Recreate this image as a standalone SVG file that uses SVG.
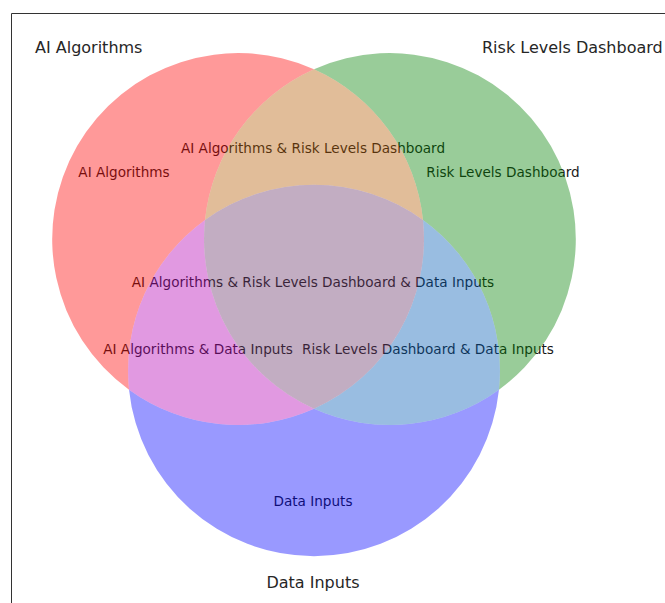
<svg xmlns="http://www.w3.org/2000/svg" width="665" height="603" viewBox="0 0 665 603">
<style>
.outer{font-family:"DejaVu Sans","Liberation Sans",sans-serif;font-size:16px;fill:#262626}
.inner{font-family:"DejaVu Sans","Liberation Sans",sans-serif;font-size:13.6px;fill:#1a1a1a;text-anchor:middle}
.reg{fill-opacity:0.4;stroke:none}
</style>
<rect width="665" height="603" fill="#ffffff"/>
<g id="frame" fill="none" stroke="#333333" stroke-width="1">
<path d="M11.5 603 V13.5 H665"/>
</g>
<g id="region-labels">
<text class="inner" x="124" y="177">AI Algorithms</text>
<text class="inner" x="503" y="177">Risk Levels Dashboard</text>
<text class="inner" x="313" y="506">Data Inputs</text>
<text class="inner" x="313" y="153">AI Algorithms &amp; Risk Levels Dashboard</text>
<text class="inner" x="198" y="354">AI Algorithms &amp; Data Inputs</text>
<text class="inner" x="428" y="354">Risk Levels Dashboard &amp; Data Inputs</text>
<text class="inner" x="313" y="287">AI Algorithms &amp; Risk Levels Dashboard &amp; Data Inputs</text>
</g>
<g id="set-A-only"><path class="reg" fill="#ff0000" d="M314 69.24 A186 186 0 0 0 129.02 389.68 A186 186 0 0 1 205.02 219.92 A186 186 0 0 1 314 69.24 Z"/></g>
<g id="set-B-only"><path class="reg" fill="#008000" d="M314 69.24 A186 186 0 0 1 498.98 389.68 A186 186 0 0 0 422.98 219.92 A186 186 0 0 0 314 69.24 Z"/></g>
<g id="set-C-only"><path class="reg" fill="#0000ff" d="M129.02 389.68 A186 186 0 0 0 498.98 389.68 A186 186 0 0 1 314 408.76 A186 186 0 0 1 129.02 389.68 Z"/></g>
<g id="set-AB"><path class="reg" fill="#b35900" d="M314 69.24 A186 186 0 0 1 422.98 219.92 A186 186 0 0 0 205.02 219.92 A186 186 0 0 1 314 69.24 Z"/></g>
<g id="set-AC"><path class="reg" fill="#b300b3" d="M205.02 219.92 A186 186 0 0 0 314 408.76 A186 186 0 0 1 129.02 389.68 A186 186 0 0 1 205.02 219.92 Z"/></g>
<g id="set-BC"><path class="reg" fill="#0059b3" d="M422.98 219.92 A186 186 0 0 1 498.98 389.68 A186 186 0 0 1 314 408.76 A186 186 0 0 0 422.98 219.92 Z"/></g>
<g id="set-ABC"><path class="reg" fill="#663366" d="M205.02 219.92 A186 186 0 0 1 422.98 219.92 A186 186 0 0 1 314 408.76 A186 186 0 0 1 205.02 219.92 Z"/></g>
<g id="set-titles">
<text class="outer" x="482" y="52.5">Risk Levels Dashboard</text>
<text class="outer" x="35" y="52.5">AI Algorithms</text>
<text class="outer" x="313" y="588" text-anchor="middle">Data Inputs</text>
</g>
</svg>
